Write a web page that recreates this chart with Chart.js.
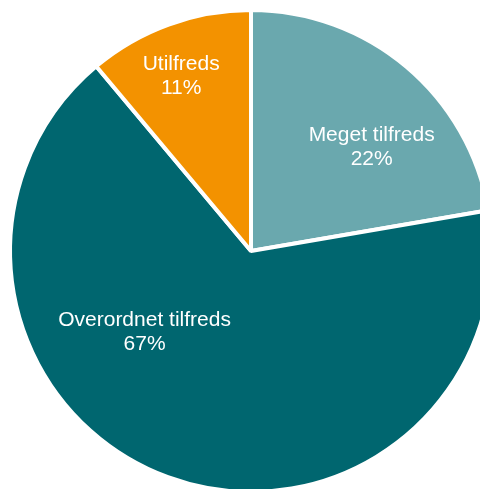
<!DOCTYPE html>
<html>
<head>
<meta charset="utf-8">
<script src="https://cdn.jsdelivr.net/npm/chart.js@4"></script>
<style>
  html, body { margin: 0; padding: 0; background: #fff; overflow: hidden; }
  #wrap { width: 480px; height: 489px; overflow: hidden; position: relative; }
  canvas { position: absolute; left: 0; top: 0; }
</style>
</head>
<body>
<div id="wrap"><canvas id="pie" width="502" height="502"></canvas></div>
<script>
const categories = ['Meget tilfreds', 'Overordnet tilfreds', 'Utilfreds'];
const shares = [22.3, 66.6, 11.1];
const colors = ['#6aa8ae', '#00666f', '#f39200'];
// label placement: angle shift from slice middle (deg) and fraction of radius
const labelShift = [8.6, 33.4, -1.6];
const labelDist = [0.666, 0.549, 0.788];

const sliceLabels = {
  id: 'sliceLabels',
  afterDatasetsDraw(chart) {
    const ctx = chart.ctx;
    const meta = chart.getDatasetMeta(0);
    const total = shares.reduce((s, v) => s + v, 0);
    ctx.save();
    ctx.fillStyle = '#fff';
    ctx.font = '21px "Liberation Sans", Arial, sans-serif';
    ctx.textAlign = 'center';
    ctx.textBaseline = 'alphabetic';
    meta.data.forEach((arc, i) => {
      const p = arc.getProps(['x', 'y', 'startAngle', 'endAngle', 'outerRadius'], true);
      const mid = (p.startAngle + p.endAngle) / 2 + labelShift[i] * Math.PI / 180;
      const r = p.outerRadius * labelDist[i];
      const cx = p.x + Math.cos(mid) * r;
      const cy = p.y + Math.sin(mid) * r;
      ctx.fillText(categories[i], cx, cy - 4);
      ctx.fillText(Math.round(shares[i] / total * 100) + '%', cx, cy + 20);
    });
    ctx.restore();
  }
};

new Chart(document.getElementById('pie'), {
  type: 'pie',
  data: {
    labels: categories,
    datasets: [{
      data: shares,
      backgroundColor: colors,
      borderColor: '#fff',
      borderWidth: 4,
      radius: 241
    }]
  },
  options: {
    responsive: false,
    animation: false,
    layout: {padding: 0},
    plugins: {legend: {display: false}, tooltip: {enabled: false}}
  },
  plugins: [sliceLabels]
});
</script>
</body>
</html>
